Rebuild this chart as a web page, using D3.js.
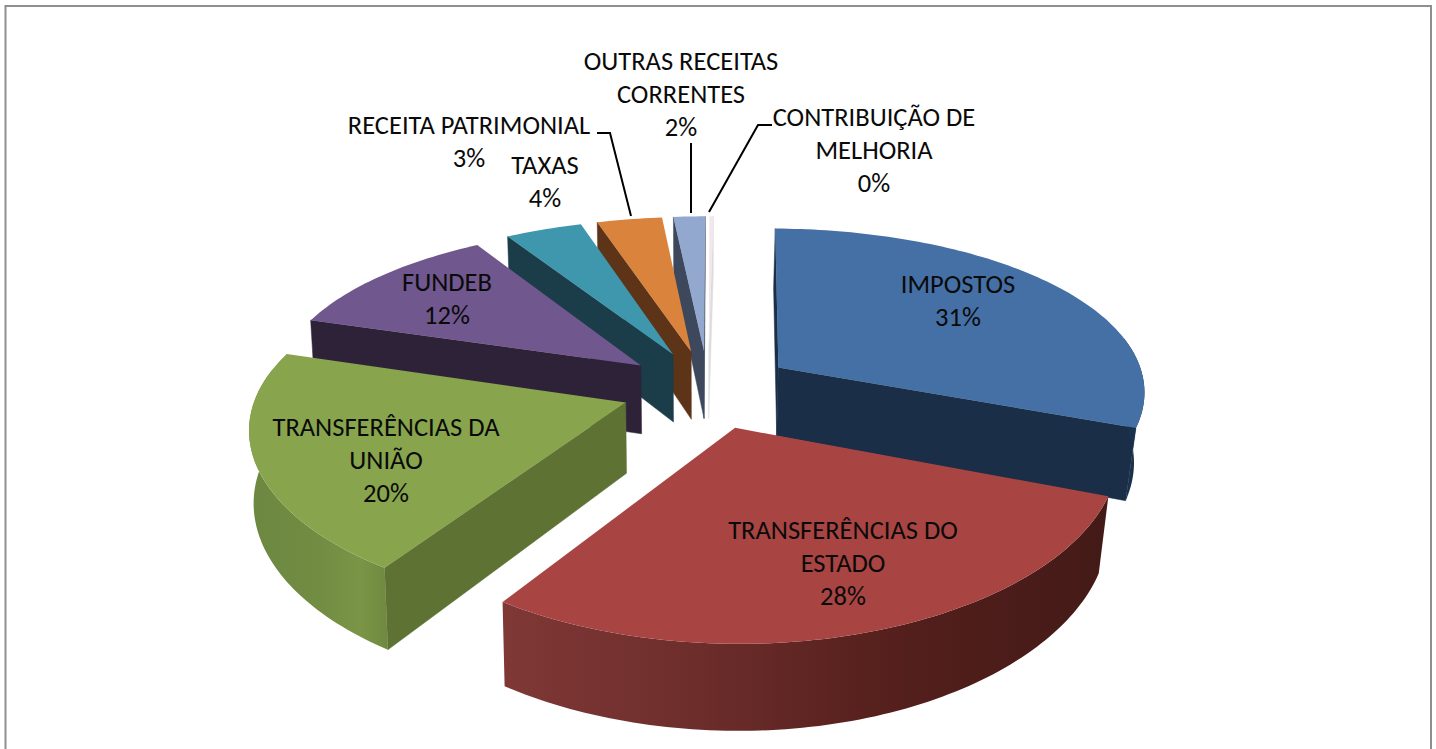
<!DOCTYPE html>
<html><head><meta charset="utf-8">
<script src="https://cdn.jsdelivr.net/npm/d3@7"></script>
<style>html,body{margin:0;padding:0;background:#fff;overflow:hidden}svg{display:block}text{font-family:Carlito,Lato,sans-serif;fill:#0a0a0a}</style>
</head><body><svg id="c" width="1436" height="749"></svg>
<script>
// ---- data ----
const categories = ["IMPOSTOS","TRANSFERÊNCIAS DO ESTADO","TRANSFERÊNCIAS DA UNIÃO","FUNDEB","TAXAS","RECEITA PATRIMONIAL","OUTRAS RECEITAS CORRENTES","CONTRIBUIÇÃO DE MELHORIA"];
const values = [30.6,28.55,20.45,11.5,3.9,3.3,1.6,0.2];
const percentLabels = ["31%","28%","20%","12%","4%","3%","2%","0%"];
const labelLines = [["IMPOSTOS"],["TRANSFERÊNCIAS DO","ESTADO"],["TRANSFERÊNCIAS DA","UNIÃO"],["FUNDEB"],["TAXAS"],["RECEITA PATRIMONIAL"],["OUTRAS RECEITAS","CORRENTES"],["CONTRIBUIÇÃO DE","MELHORIA"]];
// ---- styles ----
const topColors = ["#4470a5","#a84442","#88a44d","#70578e","#3f97ae","#da833c","#93a8cf","#f3e6ee"];
const cutColors = ["#1a2e47","#451b18","#5e7234","#2e2238","#1a3d49","#5d3417","#3d485c","#dcdcdc"];
const wallStops = [
 [["#1d3350",0],["#1a2e47",1]],
 [["#7f3836",0],["#6e2e2c",.3],["#541f1c",.65],["#431a17",1]],
 [["#6c8740",0],["#728d42",.5],["#7a9546",.8],["#6f8a40",1]],
 [["#2e2238",0],["#2e2238",1]],[["#1a3d49",0],["#1a3d49",1]],[["#5d3417",0],["#5d3417",1]],[["#3d485c",0],["#3d485c",1]],[["#dcdcdc",0],["#dcdcdc",1]]];
const labelPos = [[958,285],[843,531],[386,428],[447,283],[545,166],[469,126],[681,62],[874,118]];
const lineH = 33, fontSize = 26.5;
const leaders = [[],[],[],[],[],[[597,133],[610,133],[631,216]],[[691,143],[691,213]],[[772,125],[758,125],[709,212]]];
// ---- projection ----
const cx=708, cy=389, R=368, k=.455, px=.13, py=.16, H=70, convR=.024, convL=.01, explode=.235, rot=0.015;
const project=(X,Y,z)=>[cx+R*X/(1-px*Y)*(1-(X<0?convL:convR)*z), cy+(R*k*Y+H*z)/(1-py*Y)];
const svg=d3.select("#c"), defs=svg.append("defs");
svg.append("path").attr("d",d3.line()([[5.5,749],[5.5,6],[1431,6],[1431,749]])).attr("fill","none").attr("stroke","#8f8f8f").attr("stroke-width",2);
const arcs=d3.pie().sort(null).startAngle(rot).endAngle(2*Math.PI+rot)(values);
const line=d3.line();
const slices=arcs.map((a,i)=>{
  const mid=(a.startAngle+a.endAngle)/2;
  const ax=explode*Math.sin(mid), ay=-explode*Math.cos(mid);
  const n=Math.max(2,Math.ceil((a.endAngle-a.startAngle)/0.02));
  const ts=d3.range(n+1).map(j=>a.startAngle+(a.endAngle-a.startAngle)*j/n);
  const rim=ts.map(t=>[ax+Math.sin(t),ay-Math.cos(t)]);
  return {i,ax,ay,ts,rim};
}).sort((a,b)=>a.ay-b.ay);
const area=q=>d3.polygonArea(q);
slices.forEach(s=>{
  const g=svg.append("g"), i=s.i;
  const A0=project(s.ax,s.ay,0), A1=project(s.ax,s.ay,1);
  const top=s.rim.map(r=>project(r[0],r[1],0)), bot=s.rim.map(r=>project(r[0],r[1],1));
  const qs=[[A0,top[0],bot[0],A1],[A0,A1,bot[bot.length-1],top[top.length-1]]];
  qs.forEach(q=>{ if(area(q)>0) g.append("path").attr("d",line(q)+"Z").attr("fill",cutColors[i]).attr("stroke",cutColors[i]).attr("stroke-width",.5); });
  const idx=d3.range(s.ts.length).filter(j=>Math.cos(s.ts[j])<0.2);
  if(idx.length>1){
    const wt=idx.map(j=>top[j]), wb=idx.map(j=>bot[j]).reverse();
    const poly=wt.concat(wb), xs=poly.map(d=>d[0]);
    const id="w"+i;
    const gr=defs.append("linearGradient").attr("id",id).attr("gradientUnits","userSpaceOnUse").attr("x1",d3.min(xs)).attr("x2",d3.max(xs)).attr("y1",0).attr("y2",0);
    wallStops[i].forEach(st=>gr.append("stop").attr("offset",st[1]).attr("stop-color",st[0]));
    g.append("path").attr("d",line(poly)+"Z").attr("fill",`url(#${id})`);
  }
  g.append("path").attr("d",line([A0,...top])+"Z").attr("fill",topColors[i]);
});
leaders.forEach(l=>{ if(l.length) svg.append("path").attr("d",line(l)).attr("fill","none").attr("stroke","#000").attr("stroke-width",2); });
labelLines.forEach((ls,i)=>{
  const t=svg.append("text").attr("text-anchor","middle").attr("font-size",fontSize);
  ls.concat(percentLabels[i]).forEach((s,j)=>t.append("tspan").attr("x",labelPos[i][0]).attr("y",labelPos[i][1]+j*lineH+8).text(s));
});
</script></body></html>
